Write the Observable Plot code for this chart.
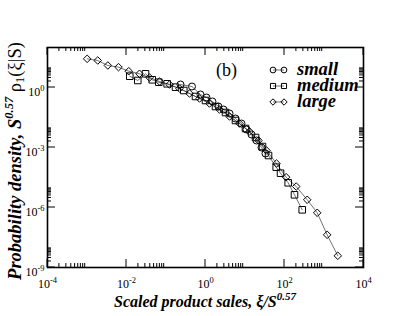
<!DOCTYPE html>
<html><head><meta charset="utf-8">
<script src="https://cdn.jsdelivr.net/npm/d3@7"></script>
<script src="https://cdn.jsdelivr.net/npm/@observablehq/plot@0.6"></script>
<style>body{margin:0;background:#fff}</style>
</head><body><div id="chart"></div>
<script>
const seriesNames = ["small", "medium", "large"];
const smallX = [0.233, 0.455, 0.746, 1.06, 1.5, 2.13, 2.86, 4.06, 5.74, 8.15, 10.9, 14.6, 19.5, 26.2, 33.0];
const smallY = [1.41, 1.12, 0.447, 0.316, 0.2, 0.112, 0.0794, 0.0501, 0.0282, 0.0158, 7.94e-3, 4.47e-3, 2.24e-3, 1.0e-3, 5.01e-4];
const mediumX = [1.21e-2, 1.93e-2, 3.03e-2, 4.48e-2, 6.58e-2, 0.107, 0.174, 0.282, 0.558, 1.0, 1.79, 3.21, 5.74, 10.3, 18.5, 27.7, 39.4, 61.7, 79.3, 124, 179, 281];
const mediumY = [3.67, 2.24, 4.84, 2.43, 1.84, 1.53, 1.04, 0.708, 0.355, 0.224, 0.112, 0.0562, 0.0224, 8.91e-3, 3.16e-3, 1.12e-3, 3.98e-4, 1.04e-4, 5.19e-5, 1.72e-5, 4.31e-6, 7.67e-7];
const largeX = [1.01e-3, 1.87e-3, 3.37e-3, 6.27e-3, 1.14e-2, 2.13e-2, 3.82e-2, 6.84e-2, 0.123, 0.22, 0.394, 0.705, 1.26, 2.26, 4.06, 7.26, 13.0, 22.0, 35.0, 62.7, 110, 198, 376, 673, 1202, 2234];
const largeY = [27.2, 22.4, 12.6, 10.4, 6.53, 4.84, 3.16, 2.0, 1.41, 0.891, 0.501, 0.282, 0.158, 0.0794, 0.0355, 0.0158, 6.31e-3, 2.24e-3, 7.08e-4, 1.58e-4, 3.27e-5, 1.12e-5, 2.43e-6, 5.43e-7, 4.32e-8, 3.85e-9];

const xMajor = [1e-4, 1e-2, 1, 1e2, 1e4];
const xTickLabels = ["10^-4", "10^-2", "10^0", "10^2", "10^4"];
const yMajor = [1e-9, 1e-6, 1e-3, 1];
const yTickLabels = ["10^-9", "10^-6", "10^-3", "10^0"];
const minorMultipliers = [2, 3, 4, 5, 6, 7, 8, 9];

const symbols = {small: "circle", medium: "square", large: "diamond2"};
const sizes = {small: 3.5, medium: 3.7, large: 3.4};

const rows = [];
[[smallX, smallY], [mediumX, mediumY], [largeX, largeY]].forEach(([xs, ys], k) => {
  xs.forEach((x, i) => rows.push({x, y: ys[i], series: seriesNames[k]}));
});

const xMinor = xMajor.slice(0, -1).flatMap(m => minorMultipliers.map(k => k * m));
const yMinor = yMajor.flatMap(m => minorMultipliers.map(k => k * m));

const W = 409, H = 316, ML = 47, MR = 46, MT = 47, MB = 49;
const MAJ = 8, MIN = 4;

const svg = Plot.plot({
  width: W, height: H,
  marginLeft: ML, marginRight: MR, marginTop: MT, marginBottom: MB,
  style: {fontFamily: "Liberation Serif", background: "white", color: "black", overflow: "visible"},
  x: {type: "log", domain: [1e-4, 1e4], axis: null},
  y: {type: "log", domain: [1e-9, 1e2], axis: null},
  marks: [
    Plot.line(rows, {x: "x", y: "y", z: "series", stroke: "#333", strokeWidth: 0.7}),
    ...seriesNames.map(s => Plot.dot(rows.filter(d => d.series === s), {
      x: "x", y: "y", symbol: () => symbols[s], r: sizes[s], stroke: "black", fill: "none", strokeWidth: 1
    })),
    Plot.frame({stroke: "black", strokeWidth: 1.6}),
    Plot.text(xMajor, {x: d => d, text: (d, i) => xTickLabels[i], frameAnchor: "bottom", dy: 17, lineAnchor: "middle", fontSize: 12, fill: "black"}),
    Plot.text(yMajor, {y: d => d, text: (d, i) => yTickLabels[i], frameAnchor: "left", dx: -3, dy: 5, textAnchor: "end", lineAnchor: "middle", fontSize: 12, fill: "black"})
  ]
});

const root = d3.select(svg);
const sx = svg.scale("x"), sy = svg.scale("y");
const x0 = ML, x1 = W - MR, y0 = MT, y1 = H - MB;
const ticks = root.append("g").attr("stroke", "black").attr("stroke-width", 1);
function xt(v, len) {
  const p = sx.apply(v);
  ticks.append("line").attr("x1", p).attr("x2", p).attr("y1", y1).attr("y2", y1 - len);
  ticks.append("line").attr("x1", p).attr("x2", p).attr("y1", y0).attr("y2", y0 + len);
}
function yt(v, len) {
  const p = sy.apply(v);
  ticks.append("line").attr("y1", p).attr("y2", p).attr("x1", x0).attr("x2", x0 + len);
  ticks.append("line").attr("y1", p).attr("y2", p).attr("x1", x1).attr("x2", x1 - len);
}
xMajor.forEach(v => xt(v, MAJ));
xMinor.forEach(v => xt(v, MIN));
yMajor.forEach(v => yt(v, MAJ));
yMinor.forEach(v => yt(v, MIN));

// superscripts in tick labels
root.selectAll("text").each(function() {
  const t = this.textContent;
  if (t.includes("^")) {
    const [base, exp] = t.split("^");
    const sel = d3.select(this);
    sel.text(null);
    sel.append("tspan").text(base);
    sel.append("tspan").attr("dy", -5).attr("font-size", 8.5).text(exp);
  }
});

// x axis title
const xtl = root.append("text").attr("x", 205).attr("y", 307).attr("text-anchor", "middle")
  .attr("font-size", 16).attr("font-weight", "bold").attr("font-style", "italic").attr("fill", "black");
xtl.append("tspan").text("Scaled product sales, ξ/S");
xtl.append("tspan").attr("dy", -7).attr("font-size", 11).text("0.57");

// y axis title
const ytl = root.append("text").attr("transform", "translate(21,161) rotate(-90)").attr("text-anchor", "middle")
  .attr("font-size", 18.5).attr("fill", "black");
ytl.append("tspan").attr("font-weight", "bold").attr("font-style", "italic").text("Probability density, S");
ytl.append("tspan").attr("font-weight", "bold").attr("font-style", "italic").attr("font-size", 12.5).attr("dy", -8).text("0.57");
ytl.append("tspan").attr("dy", 8).text(" ρ");
ytl.append("tspan").attr("font-size", 12.5).attr("dy", 3).text("1");
ytl.append("tspan").attr("dy", -3).text("(ξ|S)");

// panel label
root.append("text").attr("x", 216).attr("y", 76).attr("text-anchor", "start").attr("font-size", 18).attr("fill", "black").text("(b)");

// legend
const legendSym = {small: d3.symbolCircle, medium: d3.symbolSquare, large: d3.symbolDiamond2};
seriesNames.forEach((s, i) => {
  const y = 70 + 16 * i;
  const g = root.append("g");
  g.append("line").attr("x1", 273).attr("x2", 284).attr("y1", y).attr("y2", y).attr("stroke", "#333").attr("stroke-width", 0.7);
  [273, 284].forEach(x => g.append("path").attr("d", d3.symbol(legendSym[s], 26)()).attr("transform", `translate(${x},${y})`)
    .attr("fill", "none").attr("stroke", "black").attr("stroke-width", 1));
  g.append("text").attr("x", 297).attr("y", y + 5).attr("text-anchor", "start").attr("font-size", 18.5).attr("font-weight", "bold").attr("font-style", "italic")
    .attr("fill", "black").text(s);
});

document.getElementById("chart").appendChild(svg);
</script>
</body></html>
